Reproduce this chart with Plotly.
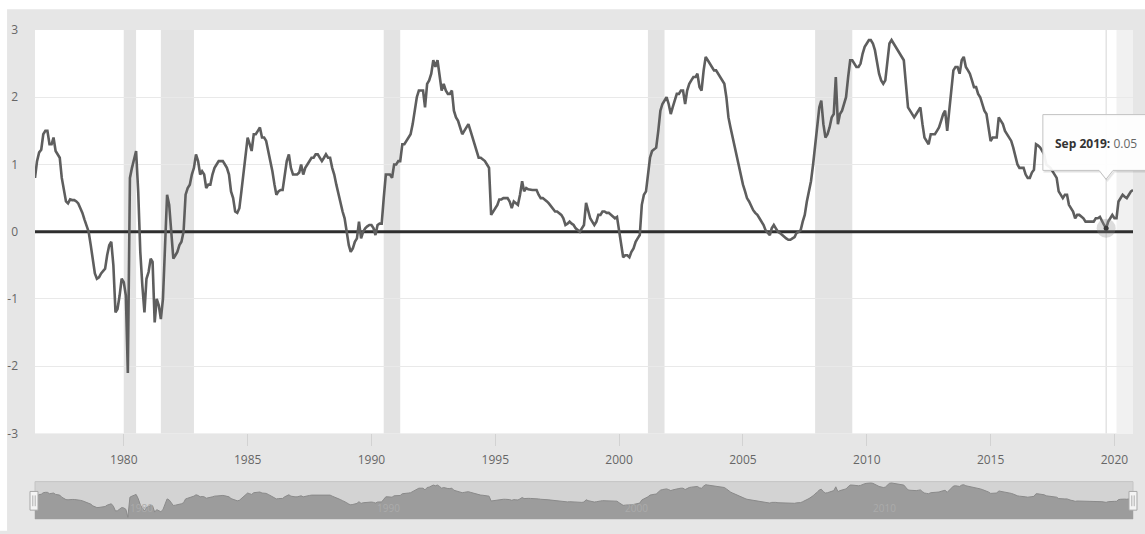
import pandas as pd
import plotly.graph_objects as go

# ---------------- data (10-year minus 2-year Treasury spread, monthly) ----------------
start_month = "1976-06-01"
v1976 = [0.80, 1.05, 1.18, 1.22, 1.45, 1.50, 1.50]
v1977 = [1.30, 1.30, 1.40, 1.20, 1.15, 1.10, 0.80, 0.60, 0.45, 0.42, 0.48, 0.47]
v1978 = [0.47, 0.45, 0.42, 0.35, 0.28, 0.18, 0.10, 0.00, -0.20, -0.45, -0.62, -0.70]
v1979 = [-0.68, -0.62, -0.58, -0.55, -0.35, -0.20, -0.15, -0.50, -1.20, -1.15, -0.95, -0.70]
v1980 = [-0.75, -0.95, -2.10, 0.80, 0.95, 1.10, 1.20, 0.60, -0.30, -0.80, -1.20, -0.70]
v1981 = [-0.60, -0.40, -0.45, -1.35, -1.00, -1.10, -1.30, -1.00, -0.20, 0.55, 0.40, -0.05]
v1982 = [-0.40, -0.35, -0.30, -0.20, -0.15, 0.00, 0.55, 0.65, 0.70, 0.85, 0.95, 1.15]
v1983 = [1.05, 0.85, 0.90, 0.85, 0.65, 0.70, 0.70, 0.85, 0.95, 1.00, 1.05, 1.05]
v1984 = [1.05, 1.00, 0.95, 0.85, 0.60, 0.50, 0.30, 0.28, 0.35, 0.60, 0.90, 1.20]
v1985 = [1.40, 1.30, 1.20, 1.45, 1.45, 1.50, 1.55, 1.40, 1.40, 1.35, 1.20, 1.05]
v1986 = [0.90, 0.70, 0.55, 0.60, 0.62, 0.62, 0.85, 1.05, 1.15, 0.95, 0.85, 0.85]
v1987 = [0.85, 0.88, 1.00, 0.85, 0.95, 1.00, 1.05, 1.10, 1.10, 1.15, 1.15, 1.10]
v1988 = [1.05, 1.10, 1.15, 1.10, 1.10, 0.95, 0.85, 0.70, 0.55, 0.45, 0.30, 0.20]
v1989 = [0.00, -0.20, -0.30, -0.25, -0.15, -0.10, 0.15, -0.10, 0.00, 0.05, 0.08, 0.10]
v1990 = [0.10, 0.05, -0.05, 0.10, 0.12, 0.12, 0.50, 0.85, 0.85, 0.85, 0.80, 1.00]
v1991 = [1.00, 1.05, 1.05, 1.30, 1.30, 1.35, 1.40, 1.45, 1.60, 1.80, 2.00, 2.10]
v1992 = [2.10, 2.10, 1.85, 2.20, 2.25, 2.35, 2.55, 2.45, 2.55, 2.35, 2.10, 2.20]
v1993 = [2.10, 2.05, 2.05, 2.10, 1.80, 1.70, 1.65, 1.55, 1.45, 1.50, 1.55, 1.60]
v1994 = [1.50, 1.40, 1.30, 1.20, 1.10, 1.10, 1.08, 1.05, 1.00, 0.95, 0.25, 0.30]
v1995 = [0.35, 0.40, 0.48, 0.48, 0.50, 0.50, 0.50, 0.45, 0.35, 0.45, 0.42, 0.40]
v1996 = [0.55, 0.75, 0.60, 0.65, 0.63, 0.62, 0.62, 0.62, 0.62, 0.55, 0.50, 0.50]
v1997 = [0.48, 0.45, 0.42, 0.38, 0.35, 0.30, 0.30, 0.27, 0.25, 0.20, 0.10, 0.12]
v1998 = [0.15, 0.12, 0.10, 0.05, 0.02, 0.00, 0.05, 0.10, 0.43, 0.30, 0.20, 0.15]
v1999 = [0.10, 0.15, 0.25, 0.25, 0.30, 0.30, 0.28, 0.28, 0.25, 0.22, 0.20, 0.22]
v2000 = [0.00, -0.15, -0.38, -0.35, -0.35, -0.38, -0.30, -0.25, -0.15, -0.10, -0.05, 0.40]
v2001 = [0.55, 0.60, 0.85, 1.10, 1.20, 1.22, 1.25, 1.50, 1.80, 1.90, 1.95, 2.00]
v2002 = [1.90, 1.75, 1.85, 1.95, 2.05, 2.05, 2.10, 2.10, 1.90, 2.10, 2.20, 2.25]
v2003 = [2.30, 2.30, 2.35, 2.15, 2.10, 2.40, 2.60, 2.55, 2.50, 2.45, 2.40, 2.40]
v2004 = [2.35, 2.30, 2.25, 2.20, 2.00, 1.70, 1.55, 1.40, 1.25, 1.10, 1.00, 0.85]
v2005 = [0.70, 0.60, 0.50, 0.45, 0.38, 0.32, 0.28, 0.25, 0.20, 0.15, 0.10, 0.02]
v2006 = [-0.02, -0.05, 0.05, 0.10, 0.05, 0.00, -0.02, -0.05, -0.08, -0.10, -0.12, -0.12]
v2007 = [-0.10, -0.08, -0.02, 0.00, 0.02, 0.15, 0.25, 0.45, 0.60, 0.75, 1.00, 1.30]
v2008 = [1.50, 1.85, 1.95, 1.60, 1.40, 1.45, 1.55, 1.70, 1.75, 2.30, 1.60, 1.75]
v2009 = [1.80, 1.90, 2.00, 2.30, 2.55, 2.55, 2.50, 2.45, 2.45, 2.50, 2.65, 2.75]
v2010 = [2.80, 2.85, 2.85, 2.80, 2.70, 2.50, 2.35, 2.25, 2.20, 2.25, 2.50, 2.80]
v2011 = [2.85, 2.80, 2.75, 2.70, 2.65, 2.60, 2.55, 2.20, 1.85, 1.80, 1.75, 1.70]
v2012 = [1.75, 1.80, 1.85, 1.60, 1.40, 1.35, 1.30, 1.45, 1.45, 1.45, 1.50, 1.55]
v2013 = [1.65, 1.75, 1.80, 1.50, 1.80, 2.10, 2.40, 2.45, 2.45, 2.35, 2.55, 2.60]
v2014 = [2.45, 2.40, 2.35, 2.25, 2.15, 2.15, 2.05, 2.00, 1.90, 1.80, 1.75, 1.55]
v2015 = [1.35, 1.40, 1.40, 1.40, 1.70, 1.65, 1.60, 1.50, 1.45, 1.40, 1.35, 1.25]
v2016 = [1.10, 1.00, 0.95, 0.95, 0.95, 0.85, 0.80, 0.80, 0.88, 0.92, 1.30, 1.28]
v2017 = [1.25, 1.20, 1.15, 1.00, 0.97, 0.95, 0.90, 0.85, 0.80, 0.60, 0.55, 0.50]
v2018 = [0.55, 0.55, 0.40, 0.35, 0.30, 0.20, 0.25, 0.25, 0.22, 0.20, 0.15, 0.15]
v2019 = [0.15, 0.15, 0.15, 0.20, 0.20, 0.22, 0.15, 0.10, 0.05, 0.15, 0.20, 0.25]
v2020 = [0.20, 0.20, 0.45, 0.50, 0.55, 0.52, 0.50, 0.55, 0.60, 0.62]

recession_starts = ["1980-01-01", "1981-07-01", "1990-07-01", "2001-03-01", "2007-12-01"]
recession_ends = ["1980-07-01", "1982-11-01", "1991-03-01", "2001-11-01", "2009-06-01"]
current_recession_start = "2020-02-01"

x_tick_years = [1980, 1985, 1990, 1995, 2000, 2005, 2010, 2015, 2020]
y_ticks = [-3, -2, -1, 0, 1, 2, 3]
nav_label_years = [1980, 1990, 2000, 2010]
hover_month = "2019-09-01"
zero_level = 0

# ---------------- assemble ----------------
values = (v1976 + v1977 + v1978 + v1979 + v1980 + v1981 + v1982 + v1983 + v1984 + v1985 +
          v1986 + v1987 + v1988 + v1989 + v1990 + v1991 + v1992 + v1993 + v1994 + v1995 +
          v1996 + v1997 + v1998 + v1999 + v2000 + v2001 + v2002 + v2003 + v2004 + v2005 +
          v2006 + v2007 + v2008 + v2009 + v2010 + v2011 + v2012 + v2013 + v2014 + v2015 +
          v2016 + v2017 + v2018 + v2019 + v2020)
dates = pd.date_range(start_month, periods=len(values), freq="MS")
series = pd.Series(values, index=dates)
x_start, x_end = dates[0], dates[-1]

W, H = 1145, 534
ML, MR, MT, MB = 33, 12, 30, 7
PW, PH = W - ML - MR, H - MT - MB
main_bottom_px, nav_top_px = 440, 489


def px_x(px):
    return (px - ML) / PW


def px_y(py):
    return (H - MB - py) / PH


FONT = "Open Sans, Noto Sans, sans-serif"
LINE = "#5e5e5e"

fig = go.Figure()

# zero reference line (drawn first so the series sits on top)
fig.add_trace(go.Scatter(x=[x_start, x_end], y=[zero_level, zero_level], mode="lines",
                         line=dict(color="#2e2e2e", width=3), xaxis="x", yaxis="y",
                         hoverinfo="skip", showlegend=False))

# main series
fig.add_trace(go.Scatter(x=dates, y=values, mode="lines",
                         line=dict(color=LINE, width=2.6), xaxis="x", yaxis="y",
                         hoverinfo="skip", showlegend=False))

# hover marker
hv = series[pd.Timestamp(hover_month)]
fig.add_trace(go.Scatter(x=[pd.Timestamp(hover_month)], y=[hv], mode="markers",
                         marker=dict(size=19, color="rgba(140,140,140,0.30)"),
                         xaxis="x", yaxis="y", hoverinfo="skip", showlegend=False))
fig.add_trace(go.Scatter(x=[pd.Timestamp(hover_month)], y=[hv], mode="markers",
                         marker=dict(size=5, color="#3a3a3a"),
                         xaxis="x", yaxis="y", hoverinfo="skip", showlegend=False))

# navigator
nav_min = min(values) - 0.25
nav_max = max(values) + 0.2
fig.add_trace(go.Scatter(x=dates, y=[nav_min] * len(values), mode="lines",
                         line=dict(width=0, color="rgba(0,0,0,0)"), xaxis="x2", yaxis="y2",
                         hoverinfo="skip", showlegend=False))
fig.add_trace(go.Scatter(x=dates, y=values, mode="lines", fill="tonexty",
                         fillcolor="#9c9c9c", line=dict(color="#8a8a8a", width=1),
                         xaxis="x2", yaxis="y2", hoverinfo="skip", showlegend=False))

shapes = []
# white strips at top and left of the page
shapes.append(dict(type="rect", xref="paper", yref="paper", x0=px_x(-5), x1=px_x(W + 5),
                   y0=px_y(9), y1=px_y(-5), fillcolor="white", line=dict(width=0), layer="above"))
shapes.append(dict(type="rect", xref="paper", yref="paper", x0=px_x(-5), x1=px_x(5),
                   y0=px_y(H + 5), y1=px_y(-5), fillcolor="white", line=dict(width=0), layer="above"))

# recessions
for s, e in zip(recession_starts, recession_ends):
    shapes.append(dict(type="rect", xref="x", yref="y domain", x0=s, x1=e, y0=0, y1=1,
                       fillcolor="#e3e3e3", line=dict(width=0), layer="below"))
shapes.append(dict(type="rect", xref="x", yref="y domain", x0=current_recession_start, x1=x_end,
                   y0=0, y1=1, fillcolor="#f1f1f1", line=dict(width=0), layer="below"))
# crosshair
shapes.append(dict(type="line", xref="x", yref="y domain", x0=hover_month, x1=hover_month,
                   y0=0, y1=1, line=dict(color="#d6d6d6", width=1), layer="below"))

# navigator background
shapes.append(dict(type="rect", xref="x2 domain", yref="y2 domain", x0=0, x1=1, y0=0, y1=1,
                   fillcolor="#d3d3d3", line=dict(color="#c4c4c4", width=1), layer="below"))
# navigator handles
for cx in (32, 1133):
    shapes.append(dict(type="rect", xref="paper", yref="paper",
                       x0=px_x(cx - 4), x1=px_x(cx + 4), y0=px_y(518), y1=px_y(499),
                       fillcolor="#f4f4f4", line=dict(color="#a8a8a8", width=1), layer="above"))
    for dx in (-1.2, 1.2):
        shapes.append(dict(type="line", xref="paper", yref="paper",
                           x0=px_x(cx + dx), x1=px_x(cx + dx), y0=px_y(514), y1=px_y(503),
                           line=dict(color="#b0b0b0", width=1), layer="above"))

# tooltip box with pointer
bl, br, bt, bb = 1042.7, 1165, 116, 172.7
tipx, tipy = 1106, 181.7


def tooltip_path(dx=0.0, dy=0.0):
    pts = [(bl, bt), (br, bt), (br, bb), (tipx + 7, bb), (tipx, tipy), (tipx - 7, bb), (bl, bb)]
    return "M " + " L ".join(f"{px_x(a + dx):.5f},{px_y(b + dy):.5f}" for a, b in pts) + " Z"


shapes.append(dict(type="path", xref="paper", yref="paper", path=tooltip_path(1.5, 1.5),
                   fillcolor="rgba(0,0,0,0.06)", line=dict(color="rgba(0,0,0,0.06)", width=2),
                   layer="above"))
shapes.append(dict(type="path", xref="paper", yref="paper", path=tooltip_path(),
                   fillcolor="rgba(255,255,255,0.93)", line=dict(color="#c2c2c2", width=1),
                   layer="above"))

annotations = []
hover_label = pd.Timestamp(hover_month).strftime("%b %Y")
annotations.append(dict(xref="paper", yref="paper", x=px_x(1053), y=px_y(145),
                        xanchor="left", yanchor="middle", showarrow=False,
                        text=f"<span style='color:#333'><b>{hover_label}:</b></span> "
                             f"<span style='color:#666'>{hv:.2f}</span>",
                        font=dict(family=FONT, size=12)))
for yr in nav_label_years:
    annotations.append(dict(xref="x2", yref="y2 domain", x=f"{yr}-01-01", y=0.3,
                            xanchor="left", yanchor="middle", xshift=4, showarrow=False,
                            text=str(yr), font=dict(family=FONT, size=10, color="#ababab")))

main_dom_bottom = px_y(main_bottom_px)
nav_dom_top = px_y(nav_top_px)

fig.update_layout(
    width=W, height=H,
    margin=dict(l=ML, r=MR, t=MT, b=MB, pad=0),
    paper_bgcolor="#e6e6e6", plot_bgcolor="white",
    showlegend=False, hovermode=False,
    font=dict(family=FONT, size=12, color="#666666"),
    shapes=shapes, annotations=annotations,
    xaxis=dict(domain=[0, 1], anchor="y", range=[x_start, x_end], type="date",
               tickvals=[f"{y}-01-01" for y in x_tick_years], ticktext=[str(y) for y in x_tick_years],
               ticks="outside", ticklen=12, tickwidth=1, tickcolor="#d2d2d2",
               ticklabelstandoff=3,
               showgrid=False, showline=False, zeroline=False,
               tickfont=dict(family=FONT, size=12, color="#666666")),
    yaxis=dict(domain=[main_dom_bottom, 1], anchor="x", range=[-3, 3],
               tickvals=y_ticks, ticktext=[str(v) for v in y_ticks],
               showgrid=True, gridcolor="#e9e9e9", gridwidth=1, zeroline=False, showline=False,
               ticks="", ticklabelstandoff=16,
               tickfont=dict(family=FONT, size=12, color="#666666")),
    xaxis2=dict(domain=[0, 1], anchor="y2", range=[x_start, x_end], type="date",
                visible=False),
    yaxis2=dict(domain=[0, nav_dom_top], anchor="x2", range=[nav_min, nav_max], visible=False),
)

fig.write_html("out.html", config={"displayModeBar": False},
               post_script="document.body.style.margin='0';document.body.style.overflow='hidden';")
